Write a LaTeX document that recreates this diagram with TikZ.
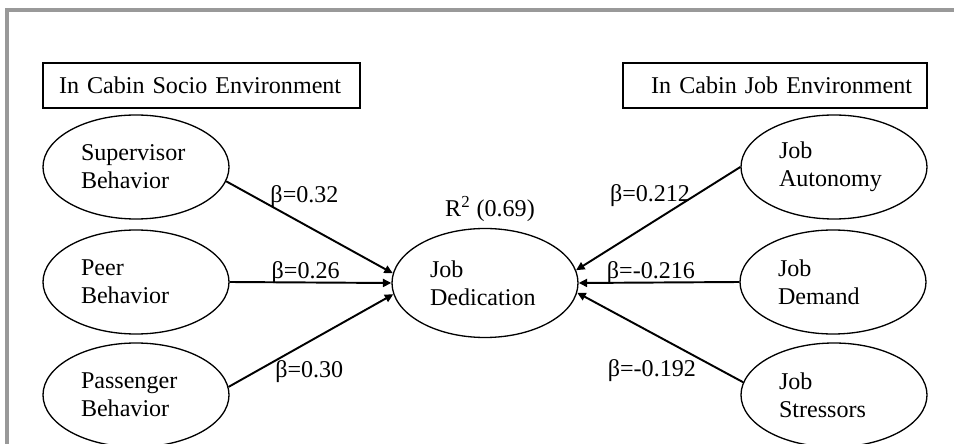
\documentclass[tikz,border=0pt]{standalone}
\usepackage{fontspec}
\setmainfont{Liberation Serif}
\usetikzlibrary{shapes.geometric, arrows.meta}
\definecolor{framegray}{RGB}{153,153,153}
\begin{document}
\begin{tikzpicture}[
		env/.style = {rectangle, draw, line width=0.8pt, minimum height=0.9cm, font=\fontsize{13.7}{16}\selectfont},
		lat/.style = {ellipse, draw, line width=0.75pt, inner sep=0pt, minimum width=3.72cm, minimum height=2.08cm, text width=2.2cm, align=left, font=\fontsize{13.7}{16}\selectfont},
		lbl/.style = {font=\fontsize{13.7}{16}\selectfont},
		r/.style = {-{Triangle[length=0.17cm, width=0.16cm]}, line width=1.1pt},
		]
		\useasboundingbox (0,0) rectangle (19.08,8.86);
		
		%Frame
		\draw[framegray, line width=0.08cm] (0.13,-0.2) |- (19.3,8.66);
		
		%Nodes
		\node[env, minimum width=6.34cm, text width=5.7cm, inner xsep=0.32cm, align=left]	(socio)	at	(4.03, 7.15)	{In Cabin Socio Environment};
		\node[env, minimum width=6.08cm, text width=5.48cm, inner xsep=0.3cm, align=right]	(job)	at	(15.5, 7.15)	{In Cabin Job Environment};
		\node[lat]	(sup)	at	(2.72, 5.52)	{Supervisor\\Behavior};
		\node[lat]	(peer)	at	(2.72, 3.22)	{Peer\\Behavior};
		\node[lat]	(pas)	at	(2.72, 0.96)	{Passenger\\Behavior};
		\node[lat, minimum height=2.18cm, label={[lbl, xshift=0.1cm]above:R\textsuperscript{2} (0.69)}]	(jd)	at	(9.70, 3.20)	{Job\\Dedication};
		\node[lat]	(aut)	at	(16.68, 5.52)	{Job\\Autonomy};
		\node[lat]	(dem)	at	(16.66, 3.22)	{Job\\Demand};
		\node[lat]	(str)	at	(16.68, 0.96)	{Job\\Stressors};
		
		%Lines
		\draw[r]	(sup.-9)	--	node[lbl, pos=.47, yshift=0.56cm]	{β=0.32}	(jd.174);
		\draw[r]	(peer.east)	--	node[lbl, pos=.47, yshift=0.2cm]	{β=0.26}	(jd.west);
		\draw[r]	(pas.5)		--	node[lbl, pos=.49, yshift=-0.6cm]	{β=0.30}	(jd.187);
		\draw[r]	(aut.west)	--	node[lbl, pos=.55, yshift=0.56cm]	{β=0.212}	(jd.8);
		\draw[r]	(dem.west)	--	node[lbl, pos=.55, yshift=0.2cm]	{β=-0.216}	(jd.east);
		\draw[r]	(str.172)	--	node[lbl, pos=.55, yshift=-0.76cm]	{β=-0.192}	(jd.-6);
	\end{tikzpicture}
\end{document}
